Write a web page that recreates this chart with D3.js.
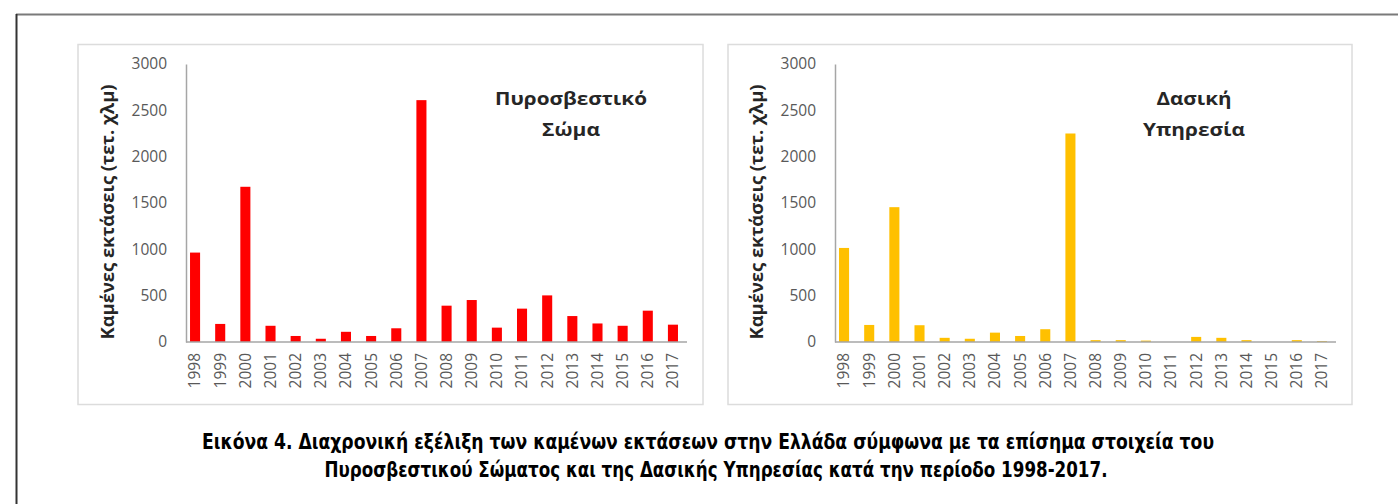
<!DOCTYPE html>
<html>
<head>
<meta charset="utf-8">
<script src="https://cdn.jsdelivr.net/npm/d3@7"></script>
<style>
  body { margin: 0; background: #fff; }
  svg { display: block; }
</style>
</head>
<body>
<div id="chart"></div>
<script>
var years = ['1998','1999','2000','2001','2002','2003','2004','2005','2006','2007',
             '2008','2009','2010','2011','2012','2013','2014','2015','2016','2017'];
// burned area, sq km
var fireService = [965, 195, 1675, 175, 65, 35, 110, 65, 148, 2610,
                   392, 453, 155, 360, 503, 280, 200, 175, 338, 187];
var forestService = [1015, 184, 1455, 181, 45, 35, 101, 65, 138, 2250,
                     20, 20, 15, 0, 55, 45, 20, 0, 20, 10];
var yTicks = [0, 500, 1000, 1500, 2000, 2500, 3000];
var yTitle = 'Καμένες εκτάσεις (τετ. χλμ)';
var captionLines = [
  'Εικόνα 4. Διαχρονική εξέλιξη των καμένων εκτάσεων στην Ελλάδα σύμφωνα με τα επίσημα στοιχεία του',
  'Πυροσβεστικού Σώματος και της Δασικής Υπηρεσίας κατά την περίοδο 1998-2017.'
];

var W = 1398, H = 504;
var chartFont = '"Open Sans", Lato, sans-serif';

var svg = d3.select('#chart').append('svg')
    .attr('width', W)
    .attr('height', H);

// outer frame (only top and left edges are visible)
svg.append('line').attr('x1', 16).attr('x2', W).attr('y1', 14.5).attr('y2', 14.5)
    .attr('stroke', '#7a7a7a').attr('stroke-width', 2);
svg.append('line').attr('x1', 16.5).attr('x2', 16.5).attr('y1', 14).attr('y2', H)
    .attr('stroke', '#333').attr('stroke-width', 2);

var panels = [
  { left: 78, right: 703, axisX: 186, values: fireService, color: '#ff0000',
    title: ['Πυροσβεστικό', 'Σώμα'], titleW: [152, 58], titleX: 571 },
  { left: 728, right: 1352, axisX: 835, values: forestService, color: '#ffc000',
    title: ['Δασική', 'Υπηρεσία'], titleW: [75, 102], titleX: 1194 }
];

panels.forEach(function(p) {
  var g = svg.append('g');

  g.append('rect')
      .attr('x', p.left).attr('y', 44.5)
      .attr('width', p.right - p.left).attr('height', 360)
      .attr('fill', '#fff')
      .attr('stroke', '#dcdcdc')
      .attr('stroke-width', 1.5);

  var x = d3.scaleBand()
      .domain(years)
      .range([p.axisX, p.axisX + 496])
      .paddingInner(0.6)
      .paddingOuter(0.16);

  var y = d3.scaleLinear()
      .domain([0, 3000])
      .range([342, 64]);

  g.selectAll('rect.bar')
      .data(p.values)
      .enter()
      .append('rect')
      .attr('class', 'bar')
      .attr('x', function(d, i) { return x(years[i]); })
      .attr('y', function(d) { return y(d); })
      .attr('width', x.bandwidth())
      .attr('height', function(d) { return y(0) - y(d); })
      .style('fill', p.color);

  var yAxis = g.append('g')
      .attr('transform', 'translate(' + p.axisX + ',0)')
      .call(d3.axisLeft(y).tickValues(yTicks).tickFormat(d3.format('d'))
            .tickSize(0).tickPadding(19));
  yAxis.select('.domain').attr('stroke', '#a6a6a6').attr('stroke-width', 1.5);
  yAxis.selectAll('text')
      .attr('fill', '#595959')
      .style('font-family', chartFont)
      .style('font-size', '15.5px');

  var xAxis = g.append('g')
      .attr('transform', 'translate(0,' + y(0) + ')')
      .call(d3.axisBottom(x).tickSize(0).tickPadding(0));
  xAxis.select('.domain').remove();
  xAxis.append('line')
      .attr('x1', p.axisX).attr('x2', p.axisX + 501)
      .attr('stroke', '#a6a6a6').attr('stroke-width', 1.5);
  xAxis.selectAll('text')
      .attr('fill', '#595959')
      .attr('transform', 'rotate(-90)')
      .attr('text-anchor', 'end')
      .attr('x', -11)
      .attr('y', 0)
      .attr('dy', '0.35em')
      .style('font-family', chartFont)
      .style('font-size', '15.5px');

  g.append('text')
      .attr('transform', 'translate(' + (p.axisX - 78) + ',212) rotate(-90)')
      .attr('text-anchor', 'middle')
      .attr('dy', '0.35em')
      .attr('fill', '#262626')
      .attr('textLength', 255)
      .attr('lengthAdjust', 'spacingAndGlyphs')
      .style('font-family', chartFont)
      .style('font-weight', 'bold')
      .style('font-size', '17px')
      .text(yTitle);

  g.selectAll('text.title')
      .data(p.title)
      .enter()
      .append('text')
      .attr('class', 'title')
      .attr('x', p.titleX)
      .attr('y', function(d, i) { return 99 + i * 31; })
      .attr('dy', '0.35em')
      .attr('text-anchor', 'middle')
      .attr('fill', '#262626')
      .attr('textLength', function(d, i) { return p.titleW[i]; })
      .attr('lengthAdjust', 'spacingAndGlyphs')
      .style('font-family', chartFont)
      .style('font-weight', 'bold')
      .style('font-size', '18.5px')
      .text(function(d) { return d; });
});

var capX = [708, 716], capW = [1012, 783];
svg.selectAll('text.caption')
    .data(captionLines)
    .enter()
    .append('text')
    .attr('class', 'caption')
    .attr('x', function(d, i) { return capX[i]; })
    .attr('y', function(d, i) { return 449 + i * 28; })
    .attr('text-anchor', 'middle')
    .attr('fill', '#000')
    .attr('textLength', function(d, i) { return capW[i]; })
    .attr('lengthAdjust', 'spacingAndGlyphs')
    .style('font-family', '"DejaVu Sans Condensed", "Liberation Sans Narrow", sans-serif')
    .style('font-weight', 'bold')
    .style('font-size', '21px')
    .text(function(d) { return d; });
</script>
</body>
</html>
